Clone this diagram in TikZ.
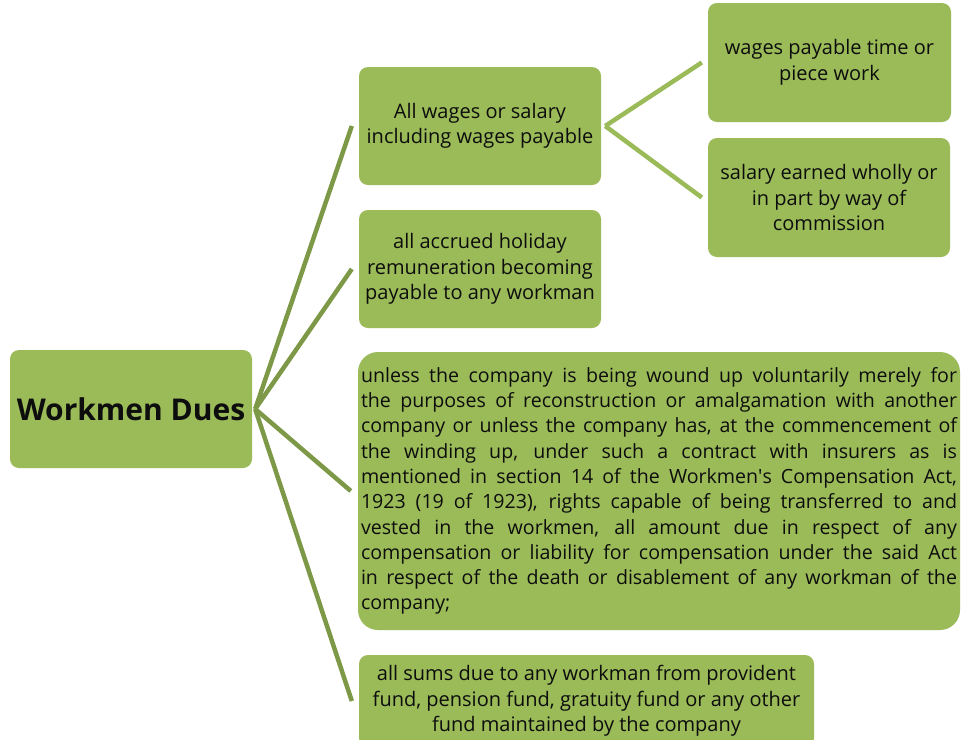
\documentclass[tikz,border=0pt]{standalone}
\usepackage{fontspec}
\setmainfont{Open Sans}
\definecolor{boxgreen}{RGB}{155,187,89}
\definecolor{linegreen}{RGB}{125,152,70}
\definecolor{txt}{RGB}{13,13,13}
\newcommand{\straightquote}{\XeTeXglyph\XeTeXcharglyph"0027\relax}
\begin{document}
\begin{tikzpicture}[x=1pt,y=-1pt,
  box/.style={fill=boxgreen, rounded corners=9pt, inner sep=0pt, text=txt,
    font=\fontsize{20}{25.6}\selectfont, align=center},
  conn/.style={draw=linegreen, line width=4.5pt},
  subconn/.style={draw=boxgreen, line width=4.5pt}]
\clip (0,0) rectangle (961,739);
\node[box, minimum width=242, minimum height=118] (root) at (131,409)
  {\fontsize{30}{36}\selectfont\bfseries Workmen Dues};
\node[box, minimum width=242, minimum height=118] (A) at (480,126)
  {All wages or salary\\including wages payable};
\node[box, minimum width=242, minimum height=118] (B) at (480,269)
  {all accrued holiday\\remuneration becoming\\payable to any workman};
\node[box, rounded corners=20pt, minimum width=602, minimum height=278,
  text width=596, inner xsep=3, align=justify,
  font=\fontsize{19.6}{25.3}\selectfont] (C) at (659,491)
  {unless the company is being wound up voluntarily merely for\linebreak
   the purposes of reconstruction or amalgamation with another\linebreak
   company or unless the company has, at the commencement of\linebreak
   the winding up, under such a contract with insurers as is\linebreak
   mentioned in section 14 of the Workmen\straightquote s Compensation Act,\linebreak
   1923 (19 of 1923), rights capable of being transferred to and\linebreak
   vested in the workmen, all amount due in respect of any\linebreak
   compensation or liability for compensation under the said Act\linebreak
   in respect of the death or disablement of any workman of the\linebreak
   company;};
\node[box, minimum width=455, minimum height=92] (D) at (586.5,701)
  {all sums due to any workman from provident\\fund, pension fund, gratuity fund or any other\\fund maintained by the company};
\node[box, minimum width=243, minimum height=119] (A1) at (829.5,62.5)
  {wages payable time or\\piece work};
\node[box, minimum width=242, minimum height=119] (A2) at (829,197.5)
  {salary earned wholly or\\in part by way of\\commission};
\draw[conn] ([xshift=3]root.east) -- ([xshift=-7]A.west);
\draw[conn] ([xshift=3]root.east) -- ([xshift=-7]B.west);
\draw[conn] ([xshift=3]root.east) -- ([xshift=-7]C.west);
\draw[conn] ([xshift=3]root.east) -- ([xshift=-7]D.west);
\draw[subconn] ([xshift=4]A.east) -- ([xshift=-6]A1.west);
\draw[subconn] ([xshift=4]A.east) -- ([xshift=-6]A2.west);
\end{tikzpicture}
\end{document}
